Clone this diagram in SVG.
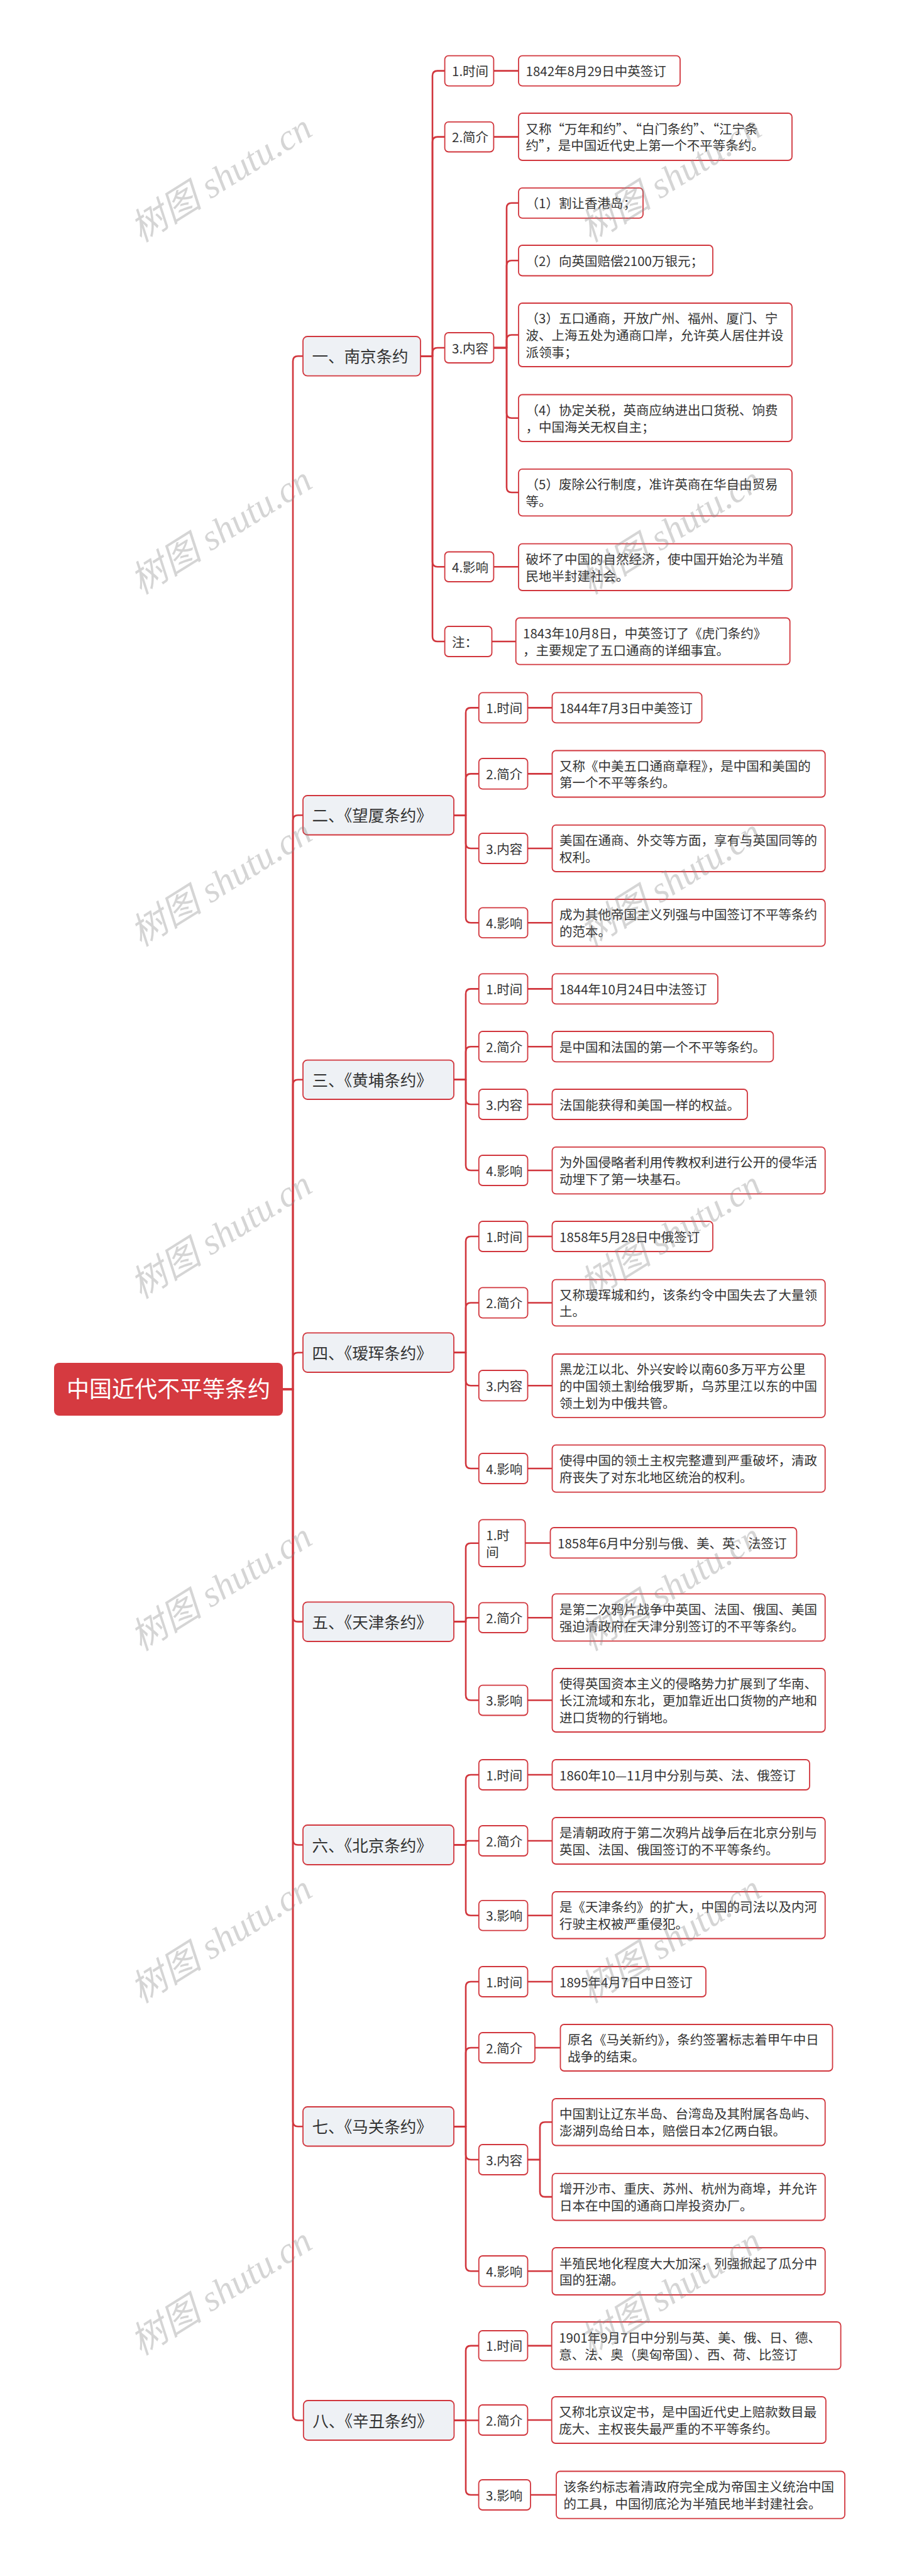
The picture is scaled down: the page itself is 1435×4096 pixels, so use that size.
<svg xmlns="http://www.w3.org/2000/svg" width="1435" height="4096" viewBox="0 0 1435 4096">
<style>
.bg{fill:#fff}
.b{fill:#fff;stroke:#d1363d;stroke-width:1.8}
.l1{fill:#eef1f5;stroke:#d1363d;stroke-width:1.8}
.root{fill:#d53a40}
.t{font-family:"Noto Sans CJK SC","Noto Sans",sans-serif;font-size:20.5px;fill:#333}
.t1{font-family:"Noto Sans CJK SC","Noto Sans",sans-serif;font-size:25.5px;fill:#333}
.tr{font-family:"Noto Sans CJK SC","Noto Sans",sans-serif;font-size:36px;fill:#fff}
.c{fill:none;stroke:#d1363d;stroke-width:2.6;stroke-linejoin:round}
.wm{font-family:"Liberation Serif","Noto Sans CJK SC",serif;font-style:italic;font-size:58px;fill:#888;fill-opacity:0.35}
</style>
<rect class="bg" x="0" y="0" width="1435" height="4096"/>

<g id="connectors">
<!-- trunk -->
<path class="c" d="M449.6 2209H466V574.3Q466 566.3 474 566.3H482"/>
<path class="c" d="M449.6 2209H466V1304.25Q466 1296.25 474 1296.25H482"/>
<path class="c" d="M449.6 2209H466V1724.8Q466 1716.8 474 1716.8H482"/>
<path class="c" d="M449.6 2209H466V2158.7Q466 2150.7 474 2150.7H482"/>
<path class="c" d="M449.6 2209H466V2570.65Q466 2578.65 474 2578.65H482"/>
<path class="c" d="M449.6 2209H466V2925.5Q466 2933.5 474 2933.5H482"/>
<path class="c" d="M449.6 2209H466V3373.25Q466 3381.25 474 3381.25H482"/>
<path class="c" d="M449.6 2209H466V3840.5Q466 3848.5 474 3848.5H482.8"/>
<!-- 南京 L1-L2 -->
<path class="c" d="M669 566.3H688V120.6Q688 112.6 696 112.6H707.6"/>
<path class="c" d="M669 566.3H688V225.6Q688 217.6 696 217.6H707.6"/>
<path class="c" d="M669 566.3H688V561Q688 553 696 553H707.6"/>
<path class="c" d="M669 566.3H688V893.2Q688 901.2 696 901.2H707.6"/>
<path class="c" d="M669 566.3H688V1012Q688 1020 696 1020H707.6"/>
<!-- 南京 L2-L3 -->
<path class="c" d="M785.4 112.6H825"/>
<path class="c" d="M785.4 217.6H825"/>
<path class="c" d="M785.4 553H806V330.8Q806 322.8 814 322.8H825"/>
<path class="c" d="M785.4 553H806V422.2Q806 414.2 814 414.2H825"/>
<path class="c" d="M785.4 553H806V540.5Q806 532.5 814 532.5H825"/>
<path class="c" d="M785.4 553H806V656.75Q806 664.75 814 664.75H825"/>
<path class="c" d="M785.4 553H806V775.05Q806 783.05 814 783.05H825"/>
<path class="c" d="M785.4 901.2H825"/>
<path class="c" d="M782.5 1020H820.7"/>
<!-- 望厦 -->
<path class="c" d="M722 1296.25H741V1133.4Q741 1125.4 749 1125.4H761.8"/>
<path class="c" d="M722 1296.25H741V1238.35Q741 1230.35 749 1230.35H761.8"/>
<path class="c" d="M722 1296.25H741V1341Q741 1349 749 1349H761.8"/>
<path class="c" d="M722 1296.25H741V1459.3Q741 1467.3 749 1467.3H761.8"/>
<path class="c" d="M839.5 1125.4H878.5M839.5 1230.35H878.5M839.5 1349H878.5M839.5 1467.3H878.5"/>
<!-- 黄埔 -->
<path class="c" d="M722 1716.8H741V1580.4Q741 1572.4 749 1572.4H761.8"/>
<path class="c" d="M722 1716.8H741V1672.2Q741 1664.2 749 1664.2H761.8"/>
<path class="c" d="M722 1716.8H741V1748Q741 1756 749 1756H761.8"/>
<path class="c" d="M722 1716.8H741V1853Q741 1861 749 1861H761.8"/>
<path class="c" d="M839.5 1572.4H878.5M839.5 1664.2H878.5M839.5 1756H878.5M839.5 1861H878.5"/>
<!-- 瑷珲 -->
<path class="c" d="M722 2150.7H741V1974Q741 1966 749 1966H761.8"/>
<path class="c" d="M722 2150.7H741V2079.5Q741 2071.5 749 2071.5H761.8"/>
<path class="c" d="M722 2150.7H741V2195.2Q741 2203.2 749 2203.2H761.8"/>
<path class="c" d="M722 2150.7H741V2327Q741 2335 749 2335H761.8"/>
<path class="c" d="M839.5 1966H878.5M839.5 2071.5H878.5M839.5 2203.2H878.5M839.5 2335H878.5"/>
<!-- 天津 -->
<path class="c" d="M722 2578.65H741V2461.7Q741 2453.7 749 2453.7H761.8"/>
<path class="c" d="M722 2578.65H741V2576.2Q741 2572.2 745 2572.2H761.8"/>
<path class="c" d="M722 2578.65H741V2695.55Q741 2703.55 749 2703.55H761.8"/>
<path class="c" d="M835.6 2453.5H875.5M839.5 2572.2H878.5M839.5 2703.55H878.5"/>
<!-- 北京 -->
<path class="c" d="M722 2933.5H741V2830Q741 2822 749 2822H761.8"/>
<path class="c" d="M722 2933.5H741V2931Q741 2927 745 2927H761.8"/>
<path class="c" d="M722 2933.5H741V3037.75Q741 3045.75 749 3045.75H761.8"/>
<path class="c" d="M839.5 2822H878.5M839.5 2927H878.5M839.5 3045.75H878.5"/>
<!-- 马关 -->
<path class="c" d="M722 3381.25H741V3159Q741 3151 749 3151H761.8"/>
<path class="c" d="M722 3381.25H741V3264Q741 3256 749 3256H761.8"/>
<path class="c" d="M722 3381.25H741V3426Q741 3434 749 3434H761.8"/>
<path class="c" d="M722 3381.25H741V3603.3Q741 3611.3 749 3611.3H761.8"/>
<path class="c" d="M839.5 3151H878.5M851 3256H891.5M839.5 3611.3H878.5"/>
<path class="c" d="M839.5 3434H859V3382.25Q859 3374.25 867 3374.25H878.5"/>
<path class="c" d="M839.5 3434H859V3485.15Q859 3493.15 867 3493.15H878.5"/>
<!-- 辛丑 -->
<path class="c" d="M722.4 3848.5H741V3737.85Q741 3729.85 749 3729.85H761.6"/>
<path class="c" d="M722.4 3848.5H761.6"/>
<path class="c" d="M722.4 3848.5H741V3959Q741 3967 749 3967H761.6"/>
<path class="c" d="M839.4 3729.85H877.7M839.4 3848H877.7M844 3967H885"/>
</g>

<g id="root">
<rect class="root" x="86" y="2167" width="364" height="84" rx="8"/>
<text class="tr" x="268" y="2222" text-anchor="middle">中国近代不平等条约</text>
</g>

<!-- 一、南京条约 -->
<g id="n1">
<rect class="l1" x="482" y="535" width="187" height="62.6" rx="7"/>
<text class="t1" x="496.5" y="576.3">一、南京条约</text>
</g>
<g id="n1-1"><rect class="b" x="707.6" y="88.6" width="77.8" height="48" rx="6"/><text class="t" x="719" y="121.1">1.时间</text></g>
<g id="n1-1a"><rect class="b" x="825" y="88.6" width="257" height="48" rx="6"/><text class="t" x="836.5" y="121.1">1842年8月29日中英签订</text></g>
<g id="n1-2"><rect class="b" x="707.6" y="193.8" width="77.8" height="47.7" rx="6"/><text class="t" x="719" y="226.1">2.简介</text></g>
<g id="n1-2a"><rect class="b" x="825" y="180" width="435" height="75" rx="6"/><text class="t" x="836.5" y="212.6"><tspan x="836.5">又称“万年和约”、“白门条约”、“江宁条</tspan><tspan x="836.5" dy="26.8">约”，是中国近代史上第一个不平等条约。</tspan></text></g>
<g id="n1-3"><rect class="b" x="707.6" y="529" width="77.8" height="48" rx="6"/><text class="t" x="719" y="561.5">3.内容</text></g>
<g id="n1-3a"><rect class="b" x="825" y="298.8" width="198" height="48" rx="6"/><text class="t" x="836.5" y="331.3">（1）割让香港岛；</text></g>
<g id="n1-3b"><rect class="b" x="825" y="390" width="309" height="48.5" rx="6"/><text class="t" x="836.5" y="422.7">（2）向英国赔偿2100万银元；</text></g>
<g id="n1-3c"><rect class="b" x="825" y="482" width="435" height="101" rx="6"/><text class="t" y="514.2"><tspan x="836.5">（3）五口通商，开放广州、福州、厦门、宁</tspan><tspan x="836.5" dy="26.8">波、上海五处为通商口岸，允许英人居住并设</tspan><tspan x="836.5" dy="26.8">派领事；</tspan></text></g>
<g id="n1-3d"><rect class="b" x="825" y="627.5" width="435" height="74.5" rx="6"/><text class="t" y="659.85"><tspan x="836.5">（4）协定关税，英商应纳进出口货税、饷费</tspan><tspan x="836.5" dy="26.8">，中国海关无权自主；</tspan></text></g>
<g id="n1-3e"><rect class="b" x="825" y="745.8" width="435" height="74.5" rx="6"/><text class="t" y="778.15"><tspan x="836.5">（5）废除公行制度，准许英商在华自由贸易</tspan><tspan x="836.5" dy="26.8">等。</tspan></text></g>
<g id="n1-4"><rect class="b" x="707.6" y="877.5" width="77.8" height="47.5" rx="6"/><text class="t" x="719" y="909.7">4.影响</text></g>
<g id="n1-4a"><rect class="b" x="825" y="864.6" width="435" height="74.4" rx="6"/><text class="t" y="896.9"><tspan x="836.5">破坏了中国的自然经济，使中国开始沦为半殖</tspan><tspan x="836.5" dy="26.8">民地半封建社会。</tspan></text></g>
<g id="n1-5"><rect class="b" x="707.6" y="996" width="74.9" height="48" rx="6"/><text class="t" x="719" y="1028.5">注：</text></g>
<g id="n1-5a"><rect class="b" x="820.7" y="982.5" width="436" height="74.2" rx="6"/><text class="t" y="1014.7"><tspan x="832">1843年10月8日，中英签订了《虎门条约》</tspan><tspan x="832" dy="26.8">，主要规定了五口通商的详细事宜。</tspan></text></g>

<!-- 二、望厦条约 -->
<g id="n2"><rect class="l1" x="482" y="1265" width="240" height="62.5" rx="7"/><text class="t1" x="496.5" y="1306.3">二、《望厦条约》</text></g>
<g id="n2-1"><rect class="b" x="761.8" y="1101.4" width="77.7" height="48" rx="6"/><text class="t" x="773.3" y="1133.9">1.时间</text></g>
<g id="n2-1a"><rect class="b" x="878.5" y="1101.4" width="238.1" height="48" rx="6"/><text class="t" x="890" y="1133.9">1844年7月3日中美签订</text></g>
<g id="n2-2"><rect class="b" x="761.8" y="1206" width="77.7" height="48.7" rx="6"/><text class="t" x="773.3" y="1238.85">2.简介</text></g>
<g id="n2-2a"><rect class="b" x="878.5" y="1193.5" width="434.2" height="74" rx="6"/><text class="t" y="1225.6"><tspan x="890">又称《中美五口通商章程》，是中国和美国的</tspan><tspan x="890" dy="26.8">第一个不平等条约。</tspan></text></g>
<g id="n2-3"><rect class="b" x="761.8" y="1325" width="77.7" height="48" rx="6"/><text class="t" x="773.3" y="1357.5">3.内容</text></g>
<g id="n2-3a"><rect class="b" x="878.5" y="1311.9" width="434.2" height="74.1" rx="6"/><text class="t" y="1344.1"><tspan x="890">美国在通商、外交等方面，享有与英国同等的</tspan><tspan x="890" dy="26.8">权利。</tspan></text></g>
<g id="n2-4"><rect class="b" x="761.8" y="1443.4" width="77.7" height="47.8" rx="6"/><text class="t" x="773.3" y="1475.8">4.影响</text></g>
<g id="n2-4a"><rect class="b" x="878.5" y="1430" width="434.2" height="74.7" rx="6"/><text class="t" y="1462.45"><tspan x="890">成为其他帝国主义列强与中国签订不平等条约</tspan><tspan x="890" dy="26.8">的范本。</tspan></text></g>

<!-- 三、黄埔条约 -->
<g id="n3"><rect class="l1" x="482" y="1685.6" width="240" height="62.4" rx="7"/><text class="t1" x="496.5" y="1726.8">三、《黄埔条约》</text></g>
<g id="n3-1"><rect class="b" x="761.8" y="1548.4" width="77.7" height="48" rx="6"/><text class="t" x="773.3" y="1580.9">1.时间</text></g>
<g id="n3-1a"><rect class="b" x="878.5" y="1548.4" width="263.5" height="48" rx="6"/><text class="t" x="890" y="1580.9">1844年10月24日中法签订</text></g>
<g id="n3-2"><rect class="b" x="761.8" y="1640" width="77.7" height="48.4" rx="6"/><text class="t" x="773.3" y="1672.7">2.简介</text></g>
<g id="n3-2a"><rect class="b" x="878.5" y="1640" width="351.8" height="48.4" rx="6"/><text class="t" x="890" y="1672.7">是中国和法国的第一个不平等条约。</text></g>
<g id="n3-3"><rect class="b" x="761.8" y="1732" width="77.7" height="48" rx="6"/><text class="t" x="773.3" y="1764.5">3.内容</text></g>
<g id="n3-3a"><rect class="b" x="878.5" y="1732" width="310.5" height="48" rx="6"/><text class="t" x="890" y="1764.5">法国能获得和美国一样的权益。</text></g>
<g id="n3-4"><rect class="b" x="761.8" y="1837" width="77.7" height="48" rx="6"/><text class="t" x="773.3" y="1869.5">4.影响</text></g>
<g id="n3-4a"><rect class="b" x="878.5" y="1823.8" width="434.2" height="74.5" rx="6"/><text class="t" y="1856.15"><tspan x="890">为外国侵略者利用传教权利进行公开的侵华活</tspan><tspan x="890" dy="26.8">动埋下了第一块基石。</tspan></text></g>

<!-- 四、瑷珲条约 -->
<g id="n4"><rect class="l1" x="482" y="2119.4" width="240" height="62.6" rx="7"/><text class="t1" x="496.5" y="2160.7">四、《瑷珲条约》</text></g>
<g id="n4-1"><rect class="b" x="761.8" y="1942" width="77.7" height="48" rx="6"/><text class="t" x="773.3" y="1974.5">1.时间</text></g>
<g id="n4-1a"><rect class="b" x="878.5" y="1942" width="255.5" height="48" rx="6"/><text class="t" x="890" y="1974.5">1858年5月28日中俄签订</text></g>
<g id="n4-2"><rect class="b" x="761.8" y="2047.4" width="77.7" height="48.2" rx="6"/><text class="t" x="773.3" y="2080">2.简介</text></g>
<g id="n4-2a"><rect class="b" x="878.5" y="2034.6" width="434.2" height="73.8" rx="6"/><text class="t" y="2066.6"><tspan x="890">又称瑷珲城和约，该条约令中国失去了大量领</tspan><tspan x="890" dy="26.8">土。</tspan></text></g>
<g id="n4-3"><rect class="b" x="761.8" y="2179" width="77.7" height="48.4" rx="6"/><text class="t" x="773.3" y="2211.7">3.内容</text></g>
<g id="n4-3a"><rect class="b" x="878.5" y="2153" width="434.2" height="100.8" rx="6"/><text class="t" y="2185.1"><tspan x="890">黑龙江以北、外兴安岭以南60多万平方公里</tspan><tspan x="890" dy="26.8">的中国领土割给俄罗斯，乌苏里江以东的中国</tspan><tspan x="890" dy="26.8">领土划为中俄共管。</tspan></text></g>
<g id="n4-4"><rect class="b" x="761.8" y="2311" width="77.7" height="48" rx="6"/><text class="t" x="773.3" y="2343.5">4.影响</text></g>
<g id="n4-4a"><rect class="b" x="878.5" y="2297.7" width="434.2" height="75" rx="6"/><text class="t" y="2330.3"><tspan x="890">使得中国的领土主权完整遭到严重破坏，清政</tspan><tspan x="890" dy="26.8">府丧失了对东北地区统治的权利。</tspan></text></g>

<!-- 五、天津条约 -->
<g id="n5"><rect class="l1" x="482" y="2547.3" width="240" height="62.7" rx="7"/><text class="t1" x="496.5" y="2588.65">五、《天津条约》</text></g>
<g id="n5-1"><rect class="b" x="761.8" y="2416.4" width="73.8" height="74.6" rx="6"/><text class="t" y="2448.8"><tspan x="773.3">1.时</tspan><tspan x="773.3" dy="26.8">间</tspan></text></g>
<g id="n5-1a"><rect class="b" x="875.5" y="2429" width="391.9" height="48.4" rx="6"/><text class="t" x="887" y="2461.7">1858年6月中分别与俄、美、英、法签订</text></g>
<g id="n5-2"><rect class="b" x="761.8" y="2548.4" width="77.7" height="47.6" rx="6"/><text class="t" x="773.3" y="2580.7">2.简介</text></g>
<g id="n5-2a"><rect class="b" x="878.5" y="2534.4" width="434.2" height="74.9" rx="6"/><text class="t" y="2566.95"><tspan x="890">是第二次鸦片战争中英国、法国、俄国、美国</tspan><tspan x="890" dy="26.8">强迫清政府在天津分别签订的不平等条约。</tspan></text></g>
<g id="n5-3"><rect class="b" x="761.8" y="2679.6" width="77.7" height="47.9" rx="6"/><text class="t" x="773.3" y="2712.05">3.影响</text></g>
<g id="n5-3a"><rect class="b" x="878.5" y="2653" width="434.2" height="101" rx="6"/><text class="t" y="2685.2"><tspan x="890">使得英国资本主义的侵略势力扩展到了华南、</tspan><tspan x="890" dy="26.8">长江流域和东北，更加靠近出口货物的产地和</tspan><tspan x="890" dy="26.8">进口货物的行销地。</tspan></text></g>

<!-- 六、北京条约 -->
<g id="n6"><rect class="l1" x="482" y="2902" width="240" height="63" rx="7"/><text class="t1" x="496.5" y="2943.5">六、《北京条约》</text></g>
<g id="n6-1"><rect class="b" x="761.8" y="2798" width="77.7" height="48" rx="6"/><text class="t" x="773.3" y="2830.5">1.时间</text></g>
<g id="n6-1a"><rect class="b" x="878.5" y="2798" width="409.5" height="48" rx="6"/><text class="t" x="890" y="2830.5">1860年10—11月中分别与英、法、俄签订</text></g>
<g id="n6-2"><rect class="b" x="761.8" y="2903" width="77.7" height="48" rx="6"/><text class="t" x="773.3" y="2935.5">2.简介</text></g>
<g id="n6-2a"><rect class="b" x="878.5" y="2890" width="434.2" height="74" rx="6"/><text class="t" y="2922.1"><tspan x="890">是清朝政府于第二次鸦片战争后在北京分别与</tspan><tspan x="890" dy="26.8">英国、法国、俄国签订的不平等条约。</tspan></text></g>
<g id="n6-3"><rect class="b" x="761.8" y="3021.8" width="77.7" height="47.9" rx="6"/><text class="t" x="773.3" y="3054.25">3.影响</text></g>
<g id="n6-3a"><rect class="b" x="878.5" y="3008" width="434.2" height="74.5" rx="6"/><text class="t" y="3040.35"><tspan x="890">是《天津条约》的扩大，中国的司法以及内河</tspan><tspan x="890" dy="26.8">行驶主权被严重侵犯。</tspan></text></g>

<!-- 七、马关条约 -->
<g id="n7"><rect class="l1" x="482" y="3350" width="240" height="62.5" rx="7"/><text class="t1" x="496.5" y="3391.25">七、《马关条约》</text></g>
<g id="n7-1"><rect class="b" x="761.8" y="3127" width="77.7" height="48" rx="6"/><text class="t" x="773.3" y="3159.5">1.时间</text></g>
<g id="n7-1a"><rect class="b" x="878.5" y="3127" width="244.5" height="48" rx="6"/><text class="t" x="890" y="3159.5">1895年4月7日中日签订</text></g>
<g id="n7-2"><rect class="b" x="761.8" y="3232" width="89.2" height="48" rx="6"/><text class="t" x="773.3" y="3264.5">2.简介</text></g>
<g id="n7-2a"><rect class="b" x="891.5" y="3219" width="433" height="74" rx="6"/><text class="t" y="3251.1"><tspan x="903">原名《马关新约》，条约签署标志着甲午中日</tspan><tspan x="903" dy="26.8">战争的结束。</tspan></text></g>
<g id="n7-3"><rect class="b" x="761.8" y="3410" width="77.7" height="48" rx="6"/><text class="t" x="773.3" y="3442.5">3.内容</text></g>
<g id="n7-3a"><rect class="b" x="878.5" y="3337" width="434.2" height="74.5" rx="6"/><text class="t" y="3369.35"><tspan x="890">中国割让辽东半岛、台湾岛及其附属各岛屿、</tspan><tspan x="890" dy="26.8">澎湖列岛给日本，赔偿日本2亿两白银。</tspan></text></g>
<g id="n7-3b"><rect class="b" x="878.5" y="3455.8" width="434.2" height="74.7" rx="6"/><text class="t" y="3488.25"><tspan x="890">增开沙市、重庆、苏州、杭州为商埠，并允许</tspan><tspan x="890" dy="26.8">日本在中国的通商口岸投资办厂。</tspan></text></g>
<g id="n7-4"><rect class="b" x="761.8" y="3587" width="77.7" height="48.6" rx="6"/><text class="t" x="773.3" y="3619.8">4.影响</text></g>
<g id="n7-4a"><rect class="b" x="878.5" y="3574" width="434.2" height="75" rx="6"/><text class="t" y="3606.6"><tspan x="890">半殖民地化程度大大加深，列强掀起了瓜分中</tspan><tspan x="890" dy="26.8">国的狂潮。</tspan></text></g>

<!-- 八、辛丑条约 -->
<g id="n8"><rect class="l1" x="482.8" y="3817" width="239.6" height="63" rx="7"/><text class="t1" x="497.3" y="3858.5">八、《辛丑条约》</text></g>
<g id="n8-1"><rect class="b" x="761.6" y="3706" width="77.8" height="47.7" rx="6"/><text class="t" x="773.1" y="3738.35">1.时间</text></g>
<g id="n8-1a"><rect class="b" x="877.7" y="3692" width="459.9" height="75.4" rx="6"/><text class="t" y="3724.8"><tspan x="889.2">1901年9月7日中分别与英、美、俄、日、德、</tspan><tspan x="889.2" dy="26.8">意、法、奥（奥匈帝国）、西、荷、比签订</tspan></text></g>
<g id="n8-2"><rect class="b" x="761.6" y="3824" width="77.8" height="48" rx="6"/><text class="t" x="773.1" y="3856.5">2.简介</text></g>
<g id="n8-2a"><rect class="b" x="877.7" y="3811" width="436.2" height="74" rx="6"/><text class="t" y="3843.1"><tspan x="889.2">又称北京议定书，是中国近代史上赔款数目最</tspan><tspan x="889.2" dy="26.8">庞大、主权丧失最严重的不平等条约。</tspan></text></g>
<g id="n8-3"><rect class="b" x="761.6" y="3943" width="82.4" height="48" rx="6"/><text class="t" x="773.1" y="3975.5">3.影响</text></g>
<g id="n8-3a"><rect class="b" x="885" y="3929.5" width="459" height="75.1" rx="6"/><text class="t" y="3962.15"><tspan x="896.5">该条约标志着清政府完全成为帝国主义统治中国</tspan><tspan x="896.5" dy="26.8">的工具，中国彻底沦为半殖民地半封建社会。</tspan></text></g>

<g id="watermarks">
<text class="wm" text-anchor="middle" transform="translate(362 300) rotate(-32)">树图 shutu.cn</text>
<text class="wm" text-anchor="middle" transform="translate(1077 300) rotate(-32)">树图 shutu.cn</text>
<text class="wm" text-anchor="middle" transform="translate(362 860) rotate(-32)">树图 shutu.cn</text>
<text class="wm" text-anchor="middle" transform="translate(1077 860) rotate(-32)">树图 shutu.cn</text>
<text class="wm" text-anchor="middle" transform="translate(362 1420) rotate(-32)">树图 shutu.cn</text>
<text class="wm" text-anchor="middle" transform="translate(1077 1420) rotate(-32)">树图 shutu.cn</text>
<text class="wm" text-anchor="middle" transform="translate(362 1980) rotate(-32)">树图 shutu.cn</text>
<text class="wm" text-anchor="middle" transform="translate(1077 1980) rotate(-32)">树图 shutu.cn</text>
<text class="wm" text-anchor="middle" transform="translate(362 2540) rotate(-32)">树图 shutu.cn</text>
<text class="wm" text-anchor="middle" transform="translate(1077 2540) rotate(-32)">树图 shutu.cn</text>
<text class="wm" text-anchor="middle" transform="translate(362 3100) rotate(-32)">树图 shutu.cn</text>
<text class="wm" text-anchor="middle" transform="translate(1077 3100) rotate(-32)">树图 shutu.cn</text>
<text class="wm" text-anchor="middle" transform="translate(362 3660) rotate(-32)">树图 shutu.cn</text>
<text class="wm" text-anchor="middle" transform="translate(1077 3660) rotate(-32)">树图 shutu.cn</text>
</g>
</svg>
